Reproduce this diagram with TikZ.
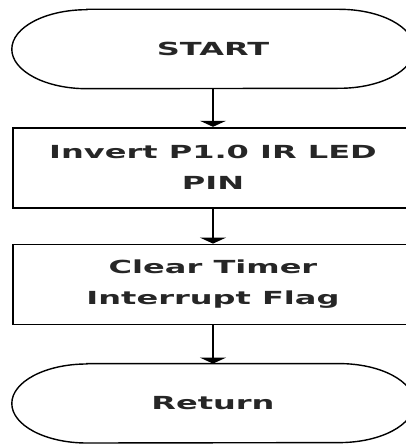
\documentclass[tikz,border=0pt]{standalone}
\usepackage{fontspec}
\newfontfamily\flowfont[FakeStretch=1.78]{DejaVu Sans}
\usetikzlibrary{arrows.meta}
\tikzset{
  flowtext/.style={font=\flowfont\bfseries\fontsize{18}{31}\selectfont, align=center, inner sep=0pt, text=black!85},
  process/.style={flowtext, draw=black, line width=1.8pt, minimum width=400pt, minimum height=80pt},
  terminal/.style={flowtext, minimum width=402pt, minimum height=79pt},
  outline/.style={draw=black, line width=1.4pt},
  flow/.style={draw=black, line width=1.8pt, -{Triangle[width=26pt 0, length=6pt 0]}}
}
% stadium outline with half-ellipse ends around a terminal node
\newcommand{\capsule}[1]{%
  \draw[outline] ([xshift=75pt]#1.north west) -- ([xshift=-75pt]#1.north east)
    arc[start angle=90, end angle=-90, x radius=75pt, y radius=39.5pt]
    -- ([xshift=75pt]#1.south west)
    arc[start angle=270, end angle=90, x radius=75pt, y radius=39.5pt] -- cycle;}
\begin{document}
\begin{tikzpicture}[x=1pt, y=1pt]
  \useasboundingbox (0,0) rectangle (406,445);
  \clip (0,0) rectangle (406,445);
  \node[terminal] (start) at (213,396) {START};
  \node[process]  (invert) at (213,277.3) {Invert P1.0 IR LED\\PIN};
  \node[process]  (clear) at (213,160.5) {Clear Timer\\Interrupt Flag};
  \node[terminal] (ret) at (213,41.7) {Return};
  \capsule{start}
  \capsule{ret}
  \draw[flow] (start.south) -- (invert.north);
  \draw[flow] (invert.south) -- (clear.north);
  \draw[flow] (clear.south) -- (ret.north);
\end{tikzpicture}
\end{document}
